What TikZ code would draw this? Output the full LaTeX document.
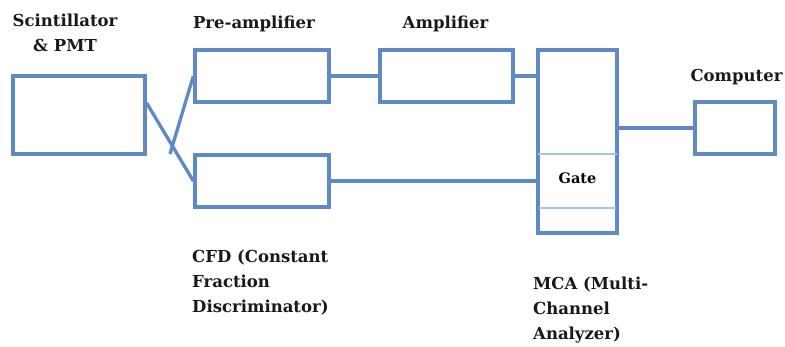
\documentclass[tikz,border=0pt]{standalone}
\usepackage{fontspec}
\setmainfont{DejaVu Serif}
\usetikzlibrary{shadows}
\definecolor{boxblue}{RGB}{94,137,196}
\definecolor{gateblue}{RGB}{165,198,236}

\begin{document}
\begin{tikzpicture}[x=1pt,y=-1pt,every node/.style={font=\bfseries\fontsize{16.5}{25}\selectfont}]
    \useasboundingbox (0,0) rectangle (785,346);

    % Styles
    \tikzstyle{unit_box} = [draw=boxblue, line width=3.3pt, fill=white, inner sep=0pt,
        drop shadow={opacity=0.18, shadow xshift=1pt, shadow yshift=-1.5pt}]
    \tikzstyle{wire} = [draw=boxblue, line width=3.3pt]
    \tikzstyle{label_txt} = [inner sep=0pt, text=black!90]

    % Boxes of the chain
    \node[unit_box, minimum width=132pt, minimum height=78pt] (scint) at (79,115) {};
    \node[unit_box, minimum width=134pt, minimum height=52pt] (preamp) at (262,76) {};
    \node[unit_box, minimum width=134pt, minimum height=52pt] (cfd) at (262,181) {};
    \node[unit_box, minimum width=133pt, minimum height=52pt] (amp) at (446.5,76) {};
    \node[unit_box, minimum width=79pt, minimum height=183pt] (mca) at (577.5,141.5) {};
    \node[unit_box, minimum width=80pt, minimum height=52pt] (comp) at (735,128) {};

    % Gate part of the MCA
    \node[inner sep=0pt, minimum width=79pt, minimum height=54pt,
        font=\bfseries\fontsize{14.5}{17}\selectfont] (gate) at (577.5,178) {Gate};
    \draw[gateblue, line width=1.5pt, shorten <=1.6pt, shorten >=1.6pt]
        ([yshift=-3pt]gate.north west) -- ([yshift=-3pt]gate.north east)
        ([yshift=-3pt]gate.south west) -- ([yshift=-3pt]gate.south east);

    % Connections
    \coordinate (split) at (170,154);
    \draw[wire] ([yshift=12pt]scint.east) -- (cfd.west);
    \draw[wire] (split) -- (preamp.west);
    \draw[wire] (preamp.east) -- (amp.west);
    \draw[wire] (amp.east) -- (amp.east -| mca.west);
    \draw[wire] (cfd.east) -- (cfd.east -| mca.west);
    \draw[wire] (comp.west -| mca.east) -- (comp.west);

    % Labels
    \node[label_txt, align=center, anchor=north] (scint_lbl) at (65,14) {Scintillator\\ \& PMT};
    \node[label_txt, anchor=base] (preamp_lbl) at (254,28) {Pre-amplifier};
    \node[label_txt, anchor=base] (amp_lbl) at (445.5,28) {Amplifier};
    \node[label_txt, anchor=base] (comp_lbl) at (736.5,81) {Computer};
    \node[label_txt, align=left, anchor=north west] (cfd_lbl) at (192,250) {CFD (Constant\\ Fraction\\ Discriminator)};
    \node[label_txt, align=left, anchor=north west] (mca_lbl) at (533,277) {MCA (Multi-\\ Channel\\ Analyzer)};

\end{tikzpicture}
\end{document}
